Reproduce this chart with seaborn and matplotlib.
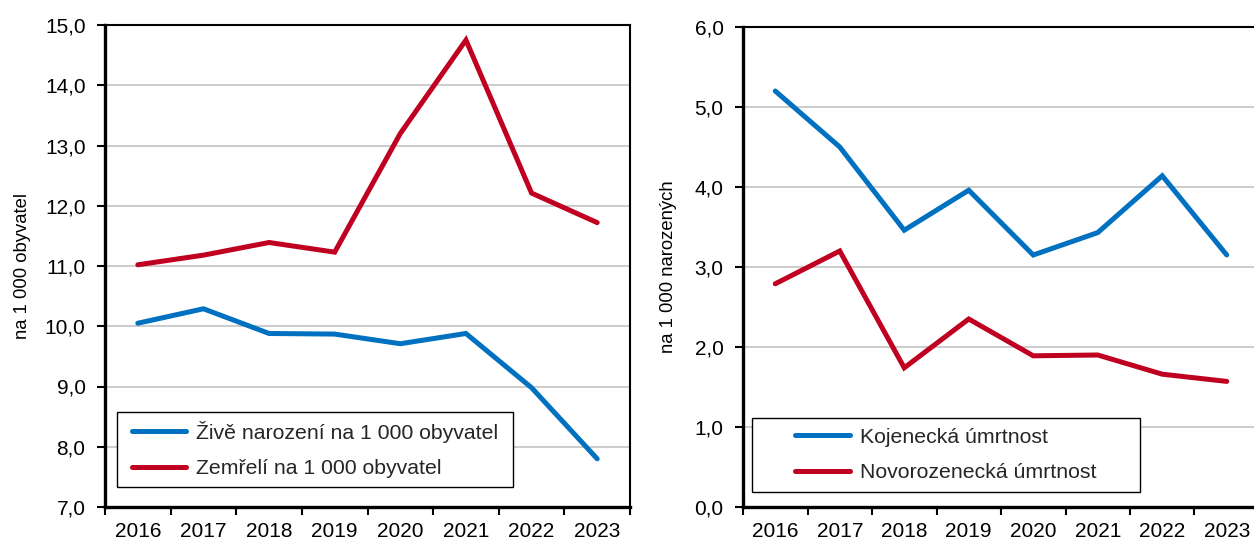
import numpy as np
import pandas as pd
import seaborn as sns
import matplotlib
matplotlib.use('Agg')
from matplotlib import pyplot as plt
from matplotlib.ticker import FuncFormatter, FixedLocator
from matplotlib.patches import Rectangle

# data
roky = ['2016', '2017', '2018', '2019', '2020', '2021', '2022', '2023']
zive_narozeni = [10.05, 10.29, 9.88, 9.87, 9.71, 9.88, 8.98, 7.80]
zemreli = [11.02, 11.18, 11.39, 11.23, 13.20, 14.75, 12.21, 11.72]
kojenecka = [5.20, 4.50, 3.46, 3.96, 3.15, 3.43, 4.14, 3.15]
novorozenecka = [2.79, 3.20, 1.74, 2.35, 1.89, 1.90, 1.66, 1.57]

modra = '#0070C0'
cervena = '#C00020'

sns.set_theme(style='white')
plt.rcParams['font.family'] = ['Liberation Sans', 'DejaVu Sans']

W, H = 1254, 541
fig = plt.figure(figsize=(W / 100, H / 100), dpi=100)
ax1 = fig.add_axes([105 / W, 34 / H, 525 / W, 482 / H])
ax2 = fig.add_axes([743 / W, 34 / H, 516 / W, 480 / H])

carka = FuncFormatter(lambda v, p: f'{v:.1f}'.replace('.', ','))


def panel(ax, s1, s2, n1, n2, ymin, ymax, ylabel, label_x, box):
    df = pd.DataFrame({'rok': roky * 2,
                       'hodnota': s1 + s2,
                       'rada': [n1] * len(roky) + [n2] * len(roky)})
    sns.lineplot(data=df, x='rok', y='hodnota', hue='rada',
                 palette=[modra, cervena], linewidth=3.6, ax=ax,
                 solid_capstyle='round', solid_joinstyle='miter')
    ax.set_xlim(-0.5, len(roky) - 0.5)
    ax.set_ylim(ymin, ymax)
    ax.set_yticks(np.arange(ymin, ymax + 0.01, 1.0))
    ax.yaxis.set_major_formatter(carka)
    ax.xaxis.set_major_locator(FixedLocator(np.arange(-0.5, len(roky), 1.0)))
    ax.xaxis.set_minor_locator(FixedLocator(np.arange(len(roky))))
    ax.set_xticklabels([''] * (len(roky) + 1))
    ax.set_xticklabels(roky, minor=True)
    ax.tick_params(axis='x', which='major', direction='out', length=6,
                   width=1.5, color='black', bottom=True)
    ax.tick_params(axis='x', which='minor', length=0, pad=11,
                   labelsize=15, colors='black', bottom=True)
    ax.tick_params(axis='y', direction='out', length=6, width=1.5, pad=8,
                   color='black', left=True, labelsize=15, labelcolor='black')
    ax.grid(axis='y', color='#C4C4C4', linewidth=1.2)
    ax.set_axisbelow(True)
    for sp in ax.spines.values():
        sp.set_color('black')
        sp.set_linewidth(1.5)
    ax.spines['left'].set_linewidth(2.4)
    ax.spines['bottom'].set_linewidth(2.4)
    ax.set_xlabel('')
    ax.set_ylabel(ylabel, fontsize=13.3, color='black')
    ax.yaxis.set_label_coords(label_x, 0.5)

    # legend: fixed frame like in Excel, content centred in it
    x0, y0, x1, y1 = box
    fig.patches.append(Rectangle((x0 / W, 1 - y1 / H), (x1 - x0) / W,
                                 (y1 - y0) / H, transform=fig.transFigure,
                                 facecolor='white', edgecolor='black',
                                 linewidth=1.0, zorder=5))
    ax.legend_.remove()
    h, l = ax.get_legend_handles_labels()
    leg = fig.legend(h, l, loc='center',
                     bbox_to_anchor=((x0 + x1) / 2 / W, 1 - (y0 + y1) / 2 / H),
                     frameon=False, fontsize=15.3, handlelength=2.55,
                     handletextpad=0.5, labelspacing=0.78, borderpad=0.0)
    leg.set_zorder(6)
    for ln in leg.get_lines():
        ln.set_linewidth(3.6)


panel(ax1, zive_narozeni, zemreli,
      'Živě narození na 1 000 obyvatel', 'Zemřelí na 1 000 obyvatel',
      7.0, 15.0, 'na 1 000 obyvatel', (31 - 105) / 525, (117, 412, 513, 487))
panel(ax2, kojenecka, novorozenecka,
      'Kojenecká úmrtnost', 'Novorozenecká úmrtnost',
      0.0, 6.0, 'na 1 000 narozených', (677 - 743) / 516, (752, 418, 1140, 492))

fig.savefig('out.png', dpi=100)
